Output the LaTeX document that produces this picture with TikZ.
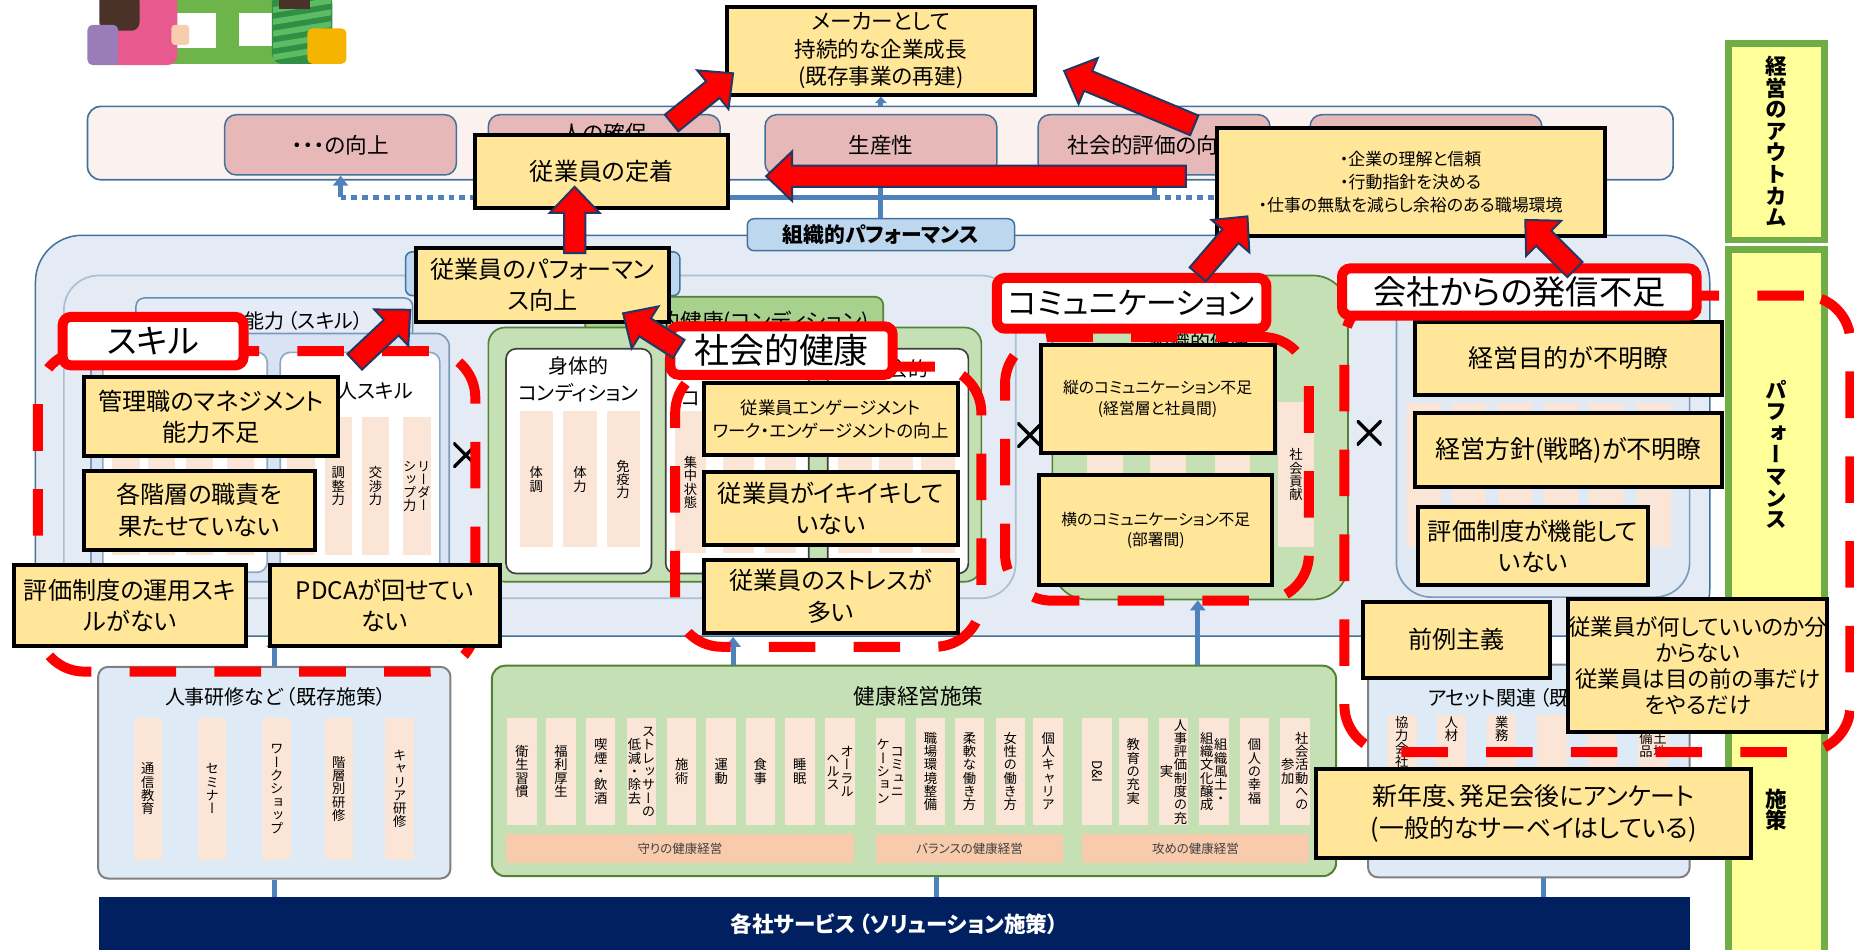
\documentclass[tikz,border=0pt]{standalone}
\usepackage{fontspec}
\setmainfont{Noto Sans CJK JP}[RawFeature=+palt]
\newfontfamily\tatefont{Noto Sans CJK JP}[RawFeature=+vert]
\usepackage{graphicx}
\usetikzlibrary{arrows.meta,calc,positioning}

\definecolor{ybox}{HTML}{FFE699}
\definecolor{linkblue}{HTML}{4F81BD}
\definecolor{frameblue}{HTML}{41719C}
\definecolor{paleblue}{HTML}{E5EBF5}
\definecolor{skyblue}{HTML}{DAE3F3}
\definecolor{tagblue}{HTML}{BDD7EE}
\definecolor{rose}{HTML}{E6B8B7}
\definecolor{blush}{HTML}{FBF2F0}
\definecolor{leaf}{HTML}{C5E0B4}
\definecolor{leafdark}{HTML}{538135}
\definecolor{leaftag}{HTML}{A9D18E}
\definecolor{barpink}{HTML}{FBE5D6}
\definecolor{salmon}{HTML}{F8CBAD}
\definecolor{navy}{HTML}{002060}
\definecolor{arrowrim}{HTML}{1F3864}
\definecolor{lemon}{HTML}{FFFF99}
\definecolor{grass}{HTML}{70AD47}
\definecolor{icebox}{HTML}{DEEBF7}
\definecolor{artgreen}{HTML}{6DB54B}
\definecolor{artpink}{HTML}{E85A8E}
\definecolor{artpurple}{HTML}{9A7CB9}
\definecolor{artstripe}{HTML}{2F8F45}
\definecolor{artstripe2}{HTML}{5DBB63}
\definecolor{artyellow}{HTML}{F4B400}
\definecolor{arthair}{HTML}{4A3228}
\definecolor{artskin}{HTML}{F7CDB0}

% vertical (tategaki) label: one glyph per line
\makeatletter
\newcommand\tate[1]{\parbox[c]{1.05em}{\tatefont\offinterlineskip
  \def\tate@next{\@tfor\tate@ch:=}%
  \edef\tate@list{#1}%
  \expandafter\tate@next\tate@list\do{\hbox to 1.05em{\hss\vrule width 0pt height .88em depth .12em\tate@ch\hss}}}}
\makeatother

% thick red block arrow from #1 to #2
\newcommand\blockarrow[2]{%
  \path ($(#2)!0.55cm!(#1)$) coordinate (#2-neck);
  \draw[redarrow] ($(#1)!0.225cm!90:(#2)$) -- ($(#2-neck)!0.225cm!90:(#2)$) -- ($(#2-neck)!0.525cm!90:(#2)$) -- (#2)
    -- ($(#2-neck)!0.525cm!-90:(#2)$) -- ($(#2-neck)!0.225cm!-90:(#2)$) -- ($(#1)!0.225cm!-90:(#2)$) -- cycle;}

\begin{document}
\begin{tikzpicture}[x=0.025cm, y=-0.025cm,
    span/.style n args={4}{minimum width={(#3-#1)*0.025cm}, minimum height={(#4-#2)*0.025cm}, at={({(#1+#3)/2},{(#2+#4)/2})}},
    ybox/.style={rectangle, draw=black, line width=2.4pt, fill=ybox, align=center, inner sep=0pt, font=\fontsize{14.5}{19}\selectfont},
    outbox/.style={rectangle, draw=frameblue, line width=0.9pt, fill=rose, rounded corners=7pt, inner sep=0pt, font=\fontsize{13}{15}\selectfont},
    panel/.style={rectangle, draw=frameblue, line width=0.9pt, fill=paleblue, inner sep=0pt},
    greenpanel/.style={rectangle, draw=leafdark, line width=1pt, fill=leaf, inner sep=0pt},
    whitebox/.style={rectangle, draw=#1, line width=1pt, fill=white, rounded corners=6pt, inner sep=0pt},
    bar/.style={rectangle, fill=barpink, inner sep=0pt},
    vlab/.style={inner sep=0pt, font=\fontsize{8}{8}\selectfont},
    cat/.style={rectangle, fill=salmon, inner sep=0pt, text=black!75, font=\fontsize{7.5}{8}\selectfont},
    redtag/.style={rectangle, draw=red, line width=6pt, fill=white, rounded corners=5pt, inner sep=0pt, font=\fontsize{20}{22}\selectfont},
    redzone/.style={rectangle, draw=red, line width=6pt, dash pattern=on 28pt off 23pt, rounded corners=28pt, inner sep=0pt},
    sidebox/.style={rectangle, draw=grass, line width=4pt, fill=lemon, inner sep=0pt, font=\bfseries\fontsize{13}{13}\selectfont},
    link/.style={draw=linkblue, line width=3pt},
    linkdot/.style={link, dash pattern=on 3.5pt off 3pt},
    uparrow/.style={link, -{Triangle[width=9pt,length=6pt]}},
    crossmark/.style={minimum size=15pt, inner sep=0pt, path picture={\draw[line width=2pt] (path picture bounding box.south west) -- (path picture bounding box.north east) (path picture bounding box.north west) -- (path picture bounding box.south east);}},
    redarrow/.style={fill=red, draw=arrowrim, line width=1.2pt, line join=miter}
]
    \useasboundingbox (0,0) rectangle (1568,803);

    % people at the board
    \fill[artgreen] (121,0) rectangle (264,54);
    \fill[white] (140,11) rectangle (183,41);
    \fill[white] (202,11) rectangle (242,39);
    \fill[artpink, rounded corners=6pt] (88,-6) rectangle (150,55);
    \fill[arthair, rounded corners=5pt] (84,-6) rectangle (118,26);
    \fill[artpurple, rounded corners=3pt] (74,21) rectangle (100,55);
    \fill[artskin, rounded corners=2pt] (145,21) rectangle (160,38);
    \fill[artstripe, rounded corners=6pt] (230,-6) rectangle (281,54);
    \foreach \s in {6,16,...,46}
        \fill[artstripe2] (231,\s) -- (280,\s-8) -- (280,\s-3) -- (231,\s+5) -- cycle;
    \fill[arthair] (236,-6) rectangle (262,8);
    \fill[artyellow, rounded corners=3pt] (260,24) rectangle (293,54);

    % outcome band
    \node[rectangle, draw=frameblue, line width=1pt, fill=blush, rounded corners=8pt, span={74}{90}{1415}{152}] (band) {};
    \node[outbox, span={190}{97}{386}{148}] (outA) {・・・の向上};
    \node[outbox, span={413}{97}{609}{148}] (outB) {};
    \node[font=\fontsize{13}{15}\selectfont] (outBtxt) at (511,113) {人の確保};
    \node[outbox, span={647}{97}{843}{148}] (outC) {生産性};
    \node[outbox, span={878}{97}{1074}{148}] (outD) {社会的評価の向上};
    \node[outbox, span={1108}{97}{1304}{148}] (outE) {};

    \coordinate (bus) at (0,167);
    \draw[linkdot] (outA.south |- bus) -- (outB.south |- bus);
    \draw[link] (outB.south |- bus) -- (outD.south |- bus);
    \draw[linkdot] (outD.south |- bus) -- (outE.south |- bus);
    \foreach \o in {outA,outB,outD,outE}
        \draw[uparrow] (\o.south |- bus) -- (\o.south);

    % organisation panel
    \node[panel, rounded corners=28pt, span={30}{199}{1446}{538}] (orgpanel) {};
    \node[rectangle, draw=frameblue!45, line width=1pt, fill=paleblue, rounded corners=21pt, span={54}{233}{859}{506}] (indpanel) {};
    \node[rectangle, draw=frameblue, line width=0.9pt, fill=tagblue, rounded corners=4pt, span={343}{213}{575}{250}] (indtag) {};

    % skills
    \node[rectangle, draw=frameblue!80, line width=0.9pt, fill=skyblue!70, rounded corners=5pt, span={115}{252}{349}{290}] (skilltag) {};
    \node[font=\fontsize{12}{14}\selectfont] (skilltagtxt) at (257,271) {能力\,（スキル）};
    \node[rectangle, draw=frameblue!70, line width=1pt, fill=skyblue, rounded corners=8pt, span={77}{282}{380}{492}] (skillbox) {};
    \node[whitebox=frameblue!60, span={87}{298}{226}{484}] (skillA) {};
    \node[whitebox=frameblue!60, span={237}{298}{372}{484}] (skillB) {};
    \node[font=\fontsize{12}{14}\selectfont] (skillBtxt) at (309,331) {個人スキル};
    \foreach \cx [count=\i] in {106.5,136.5,168.5,203.5}
        \node[bar, minimum width=0.575cm, minimum height=2.9cm] (sa\i) at (\cx,411) {};
    \foreach \cx/\lab [count=\i] in {254.5/{}, 286/{\tate{調整力}}, 317.5/{\tate{交渉力}}, 352.5/{\tate{シップ力}\tate{リーダー}}}
        \node[bar, vlab, minimum width=0.575cm, minimum height=2.9cm] (sb\i) at (\cx,411) {\lab};
    \node[crossmark] (xskill) at (394,385) {};

    % condition
    \node[rectangle, draw=leafdark, line width=1pt, fill=leaftag, rounded corners=5pt, span={495}{251}{747}{289}] (healthtag) {};
    \node[font=\fontsize{13}{15}\selectfont] (healthtagtxt) at (646,273) {的健康(コンディション)};
    \node[greenpanel, rounded corners=10pt, span={413}{277}{830}{492}] (healthbox) {};
    \node[whitebox=black!75, span={428}{295}{551}{485}] (bodycond) {};
    \node[whitebox=black!75, span={563}{295}{684}{485}] (mindcond) {};
    \node[whitebox=black!75, span={700}{295}{819}{485}] (socialcond) {};
    \node[align=center, font=\fontsize{12}{16}\selectfont] (bodytxt) at (489,321) {身体的\\コンディション};
    \node[font=\fontsize{12}{16}\selectfont] (mindtxt) at (584,337) {コ};
    \node[font=\fontsize{12}{16}\selectfont] (socialtxt) at (760,312) {社会的};
    \foreach \cx/\lab [count=\i] in {453.5/{\tate{体調}}, 490.5/{\tate{体力}}, 527/{\tate{免疫力}}}
        \node[bar, vlab, minimum width=0.7cm, minimum height=2.875cm] (hb\i) at (\cx,405.5) {\lab};
    \foreach \cx/\lab [count=\i] in {584/{\tate{集中状態}}, 624.5/{}, 660/{}}
        \node[bar, vlab, minimum width=0.65cm, minimum height=3cm] (mb\i) at (\cx,408) {\lab};
    \foreach \cx [count=\i] in {723,758,793.5}
        \node[bar, minimum width=0.725cm, minimum height=3cm] (scb\i) at (\cx,408) {};
    \node[crossmark] (xhealth) at (871,368) {};

    % organisational health
    \node[greenpanel, rounded corners=21pt, span={890}{233}{1140}{507}] (commbox) {};
    \node[font=\fontsize{12}{14}\selectfont] (commtxt) at (1015,289) {組織的健康};
    \foreach \cx/\lab [count=\i] in {934.5/{}, 988/{}, 1042.5/{}, 1096/{\tate{社会貢献}}}
        \node[bar, vlab, minimum width=0.75cm, minimum height=3.075cm] (cb\i) at (\cx,401.5) {\lab};
    \node[crossmark] (xcomm) at (1158,366) {};

    % company assets
    \node[rectangle, draw=frameblue!70, line width=1pt, fill=skyblue!80, rounded corners=21pt, span={1181}{240}{1429}{505}] (compbox) {};
    \foreach \cx [count=\i] in {1204.5,1242.5,1281.5,1320,1358.5,1399}
        \node[bar, minimum width=0.725cm, minimum height=3.05cm] (rb\i) at (\cx,402) {};

    \node[rectangle, draw=frameblue, line width=0.9pt, fill=tagblue, rounded corners=4pt, span={632}{185}{858}{212}, font=\bfseries\fontsize{12.5}{14}\selectfont] (orgperf) {組織的パフォーマンス};
    \draw[uparrow] (orgperf.north) -- (outC.south);

    % measures
    \node[rectangle, draw=black!50, line width=1.2pt, fill=icebox, rounded corners=6pt, span={83}{564}{381}{743}] (training) {};
    \node[font=\fontsize{12}{14}\selectfont] (trainingtxt) at (233,589) {人事研修など\,（既存施策）};
    \foreach \cx/\lab [count=\i] in {125/{\tate{通信教育}}, 179.5/{\tate{セミナー}}, 234/{\tate{ワークショップ}}, 286.5/{\tate{階層別研修}}, 338/{\tate{キャリア研修}}}
        \node[bar, vlab, minimum width=0.6cm, minimum height=3cm] (tb\i) at (\cx,667) {\lab};

    \node[greenpanel, line width=1.2pt, rounded corners=8pt, span={416}{563}{1130}{741}] (kenko) {};
    \node[font=\fontsize{13}{15}\selectfont] (kenkotxt) at (777,589) {健康経営施策};
    \foreach \cx/\lab [count=\i] in {
        441.5/{\tate{衛生習慣}}, 474.5/{\tate{福利厚生}}, 508/{\tate{喫煙・飲酒}},
        542.5/{\tate{低減・除去}\tate{ストレッサーの}}, 576.5/{\tate{施術}}, 610/{\tate{運動}},
        643/{\tate{食事}}, 676.5/{\tate{睡眠}}, 710.5/{\tate{ヘルス}\tate{オーラル}},
        753/{\tate{ケーション}\tate{コミュニ}}, 787/{\tate{職場環境整備}}, 820/{\tate{柔軟な働き方}},
        854.5/{\tate{女性の働き方}}, 886.5/{\tate{個人キャリア}}, 928/{\rotatebox{-90}{D\&I}},
        958.5/{\tate{教育の充実}}, 992.5/{\tate{実}\tate{人事評価制度の充}}, 1026.5/{\tate{組織文化醸成}\tate{組織風土・}},
        1061/{\tate{個人の幸福}}, 1095/{\tate{参加}\tate{社会活動への}}}
        \node[bar, vlab, minimum width=0.625cm, minimum height=2.275cm] (kb\i) at (\cx,652.5) {\lab};
    \node[cat, span={428}{705}{722}{730}] (defend) {守りの健康経営};
    \node[cat, span={741}{705}{899}{730}] (balance) {バランスの健康経営};
    \node[cat, span={915}{705}{1107}{730}] (attack) {攻めの健康経営};

    \node[rectangle, draw=black!50, line width=1.2pt, fill=icebox, rounded corners=6pt, span={1157}{562}{1429}{742}] (asset) {};
    \node[font=\fontsize{12}{14}\selectfont] (assettxt) at (1297,590) {アセット関連\,（既存施策）};
    \foreach \cx [count=\i] in {1185.5,1227.5,1270,1312.5,1355,1398}
        \node[bar, minimum width=0.625cm, minimum height=3.05cm] (ab\i) at (\cx,666) {};
    \node[vlab, anchor=north] (ab1txt) at (ab1.north) {\tate{協力会社}};
    \node[vlab, anchor=north] (ab2txt) at (ab2.north) {\tate{人材}};
    \node[vlab, anchor=north] (ab3txt) at (ab3.north) {\tate{業務}};
    \node[vlab, anchor=north] (ab6txt) at ([yshift=-10pt]ab6.north) {\tate{備品}\tate{土地}};

    \node[rectangle, fill=navy, span={84}{759}{1429}{805}, text=white, font=\bfseries\fontsize{13}{15}\selectfont] (service) {各社サービス\,（ソリューション施策）};

    \coordinate (cxA) at (620,0);
    \coordinate (cxB) at (1013,0);
    \coordinate (cxC) at (792,0);
    \coordinate (cxD) at (1305,0);
    \draw[uparrow] (training.north) -- (training.north |- orgpanel.south);
    \draw[uparrow] (kenko.north -| cxA) -- (orgpanel.south -| cxA);
    \draw[uparrow] (kenko.north -| cxB) -- (commbox.south -| cxB);
    \draw[link] (training.south) -- (training.south |- service.north);
    \draw[link] (kenko.south -| cxC) -- (service.north -| cxC);
    \draw[link] (asset.south -| cxD) -- (service.north -| cxD);

    % side column
    \node[sidebox, span={1462}{37}{1543}{203}] (outcomecol) {\tate{経営のアウトカム}};
    \node[sidebox, span={1462}{211}{1543}{558}] (perfcol) {\tate{パフォーマンス}};
    \node[sidebox, span={1462}{563}{1543}{815}] (measurecol) {};
    \node[font=\bfseries\fontsize{13}{13}\selectfont] (measuretxt) at (1502,685) {\tate{施策}};

    % problem areas
    \node[redzone, span={32}{297}{402}{568}] (zoneskill) {};
    \node[redzone, span={571}{310}{830}{547}] (zonesocial) {};
    \node[redzone, span={850}{285}{1107}{508}] (zonecomm) {};
    \node[redzone, span={1137}{250}{1565}{636}] (zonecomp) {};

    % issues
    \node[ybox, span={615}{6}{875}{80}, font=\fontsize{13}{16.5}\selectfont] (maker) {メーカーとして\\持続的な企業成長\\(既存事業の再建)};
    \node[ybox, span={402}{114}{616}{176}] (teichaku) {従業員の定着};
    \node[ybox, span={1029}{108}{1357}{200}, font=\fontsize{10.2}{13.8}\selectfont] (trust) {・企業の理解と信頼\\・行動指針を決める\\・仕事の無駄を減らし余裕のある職場環境};
    \node[ybox, span={352}{210}{566}{272}] (perfup) {従業員のパフォーマン\\ス向上};
    \node[ybox, span={71}{319}{286}{386}] (mgmt) {管理職のマネジメント\\能力不足};
    \node[ybox, span={71}{398}{266}{465}] (duty) {各階層の職責を\\果たせていない};
    \node[ybox, span={12}{478}{208}{546}] (evalskill) {評価制度の運用スキ\\ルがない};
    \node[ybox, span={228}{478}{423}{546}] (pdca) {PDCAが回せてい\\ない};
    \node[ybox, span={595}{324}{810}{385}, font=\fontsize{10.5}{14}\selectfont] (engage) {従業員エンゲージメント\\ワーク・エンゲージメントの向上};
    \node[ybox, span={595}{399}{810}{461}] (lively) {従業員がイキイキして\\いない};
    \node[ybox, span={595}{474}{810}{535}] (stress) {従業員のストレスが\\多い};
    \node[ybox, span={880}{292}{1078}{383}, font=\fontsize{9.5}{12.5}\selectfont] (vertcomm) {縦のコミュニケーション不足\\(経営層と社員間)};
    \node[ybox, span={879}{402}{1076}{495}, font=\fontsize{9.5}{12.5}\selectfont] (horizcomm) {横のコミュニケーション不足\\(部署間)};
    \node[ybox, span={1197}{272}{1456}{334}, font=\fontsize{15}{19}\selectfont] (purpose) {経営目的が不明瞭};
    \node[ybox, span={1197}{349}{1456}{412}, font=\fontsize{15}{19}\selectfont] (policy) {経営方針(戦略)が不明瞭};
    \node[ybox, span={1199}{429}{1394}{495}] (evalsys) {評価制度が機能して\\いない};
    \node[ybox, span={1153}{509}{1311}{573}] (precedent) {前例主義};
    \node[ybox, span={1329}{507}{1543}{619}, font=\fontsize{13.5}{15.6}\selectfont] (lost) {従業員が何していいのか分\\からない\\従業員は目の前の事だけ\\をやるだけ};
    \node[ybox, span={1113}{650}{1481}{726}, font=\fontsize{15}{19}\selectfont] (survey) {新年度、発足会後にアンケート\\(一般的なサーベイはしている)};

    \draw[link, -{Triangle[width=7pt,length=4pt]}] (band.north -| maker.south) -- (maker.south);

    % headings of the problem areas
    \node[redtag, span={53}{268}{206}{309}] (tagskill) {スキル};
    \node[redtag, span={567}{276}{755}{317}, font=\fontsize{21}{23}\selectfont] (tagsocial) {社会的健康};
    \node[redtag, span={843}{235}{1071}{278}, font=\fontsize{18.5}{21}\selectfont] (tagcomm) {コミュニケーション};
    \node[redtag, span={1135}{227}{1435}{267}] (tagcomp) {会社からの発信不足};

    % causal arrows
    \coordinate (skillFrom) at (300,306);   \coordinate (skillTo) at (347,262);
    \coordinate (socialFrom) at (574,295);  \coordinate (socialTo) at (527,265);
    \coordinate (perfFrom) at (486,214);    \coordinate (perfTo) at (486,158);
    \coordinate (stayFrom) at (568,104);    \coordinate (stayTo) at (620,62);
    \coordinate (trustFrom) at (1010,106);  \coordinate (trustTo) at (900,60);
    \coordinate (longFrom) at (1003,149);   \coordinate (longTo) at (648,149);
    \coordinate (commFrom) at (1013,232);   \coordinate (commTo) at (1055,183);
    \coordinate (compFrom) at (1332,228);   \coordinate (compTo) at (1290,186);
    \blockarrow{skillFrom}{skillTo}
    \blockarrow{socialFrom}{socialTo}
    \blockarrow{perfFrom}{perfTo}
    \blockarrow{stayFrom}{stayTo}
    \blockarrow{trustFrom}{trustTo}
    \blockarrow{longFrom}{longTo}
    \blockarrow{commFrom}{commTo}
    \blockarrow{compFrom}{compTo}
\end{tikzpicture}
\end{document}
